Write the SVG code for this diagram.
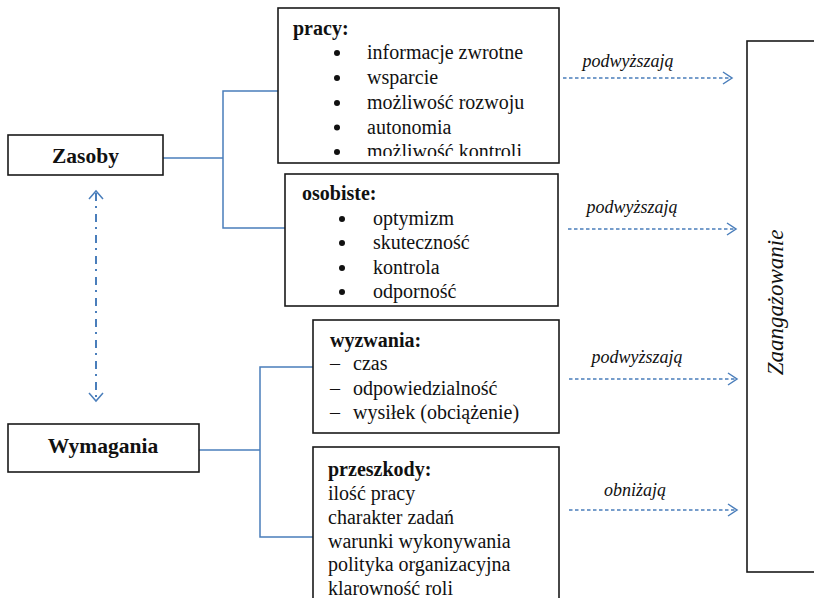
<svg xmlns="http://www.w3.org/2000/svg" width="814" height="598" viewBox="0 0 814 598">
  <style>
    .box { fill: #ffffff; stroke: #1a1a1a; stroke-width: 1.6; }
    .body { font-family: "Liberation Serif", "Times New Roman", serif; font-size: 20px; fill: #111111; }
    .head { font-family: "Liberation Serif", "Times New Roman", serif; font-size: 20px; font-weight: bold; fill: #111111; }
    .title { font-family: "Liberation Serif", "Times New Roman", serif; font-size: 21.5px; font-weight: bold; fill: #111111; text-anchor: middle; }
    .lbl { font-family: "Liberation Serif", "Times New Roman", serif; font-size: 18px; font-style: italic; fill: #111111; text-anchor: middle; }
    .dot { fill: #111111; }
    .link { fill: none; stroke: #4a7ebb; stroke-width: 1.5; }
    .effect { fill: none; stroke: #4a7ebb; stroke-width: 1.3; stroke-dasharray: 3.5 2.5; }
    .mutual { fill: none; stroke: #4a7ebb; stroke-width: 2; stroke-dasharray: 8 5 2 6; }
    .head-open { fill: none; stroke: #4a7ebb; stroke-width: 1.5; stroke-linejoin: miter; }
  </style>
  <defs>
    <clipPath id="pracyClip">
      <rect x="278" y="8" width="281" height="148"/>
    </clipPath>
  </defs>

  <rect width="814" height="598" fill="#ffffff"/>

  <!-- connectors -->
  <g id="connectors">
    <!-- resources bracket -->
    <polyline class="link" points="163,158 223,158"/>
    <polyline class="link" points="278,91 223,91 223,228 285,228"/>
    <!-- demands bracket -->
    <polyline class="link" points="199,450 260,450"/>
    <polyline class="link" points="313,367 260,367 260,537 313,537"/>

    <!-- two-way link between resources and demands -->
    <line class="mutual" x1="96" y1="193" x2="96" y2="399"/>
    <polyline class="head-open" points="89,199 96,191 103,199"/>
    <polyline class="head-open" points="89,393 96,401 103,393"/>

    <!-- effects on engagement -->
    <line class="effect" x1="563" y1="78" x2="731" y2="78"/>
    <polyline class="head-open" points="723,72 732,78 723,84"/>
    <line class="effect" x1="568" y1="229" x2="735" y2="229"/>
    <polyline class="head-open" points="727,223 736,229 727,235"/>
    <line class="effect" x1="569" y1="379" x2="736" y2="379"/>
    <polyline class="head-open" points="728,373 737,379 728,385"/>
    <line class="effect" x1="569" y1="510" x2="736" y2="510"/>
    <polyline class="head-open" points="728,504 737,510 728,516"/>

    <text class="lbl" x="628" y="67">podwyższają</text>
    <text class="lbl" x="632" y="213">podwyższają</text>
    <text class="lbl" x="637" y="363">podwyższają</text>
    <text class="lbl" x="635" y="496">obniżają</text>
  </g>

  <!-- left nodes -->
  <g id="zasoby">
    <rect class="box" x="8" y="135" width="155" height="40"/>
    <text class="title" x="85.5" y="163">Zasoby</text>
  </g>
  <g id="wymagania">
    <rect class="box" x="8" y="424" width="191" height="48"/>
    <text class="title" x="103" y="453">Wymagania</text>
  </g>

  <!-- resources -->
  <g id="pracy">
    <rect class="box" x="278" y="8" width="281" height="155"/>
    <g clip-path="url(#pracyClip)">
      <text class="head" x="293" y="35">pracy:</text>
      <circle class="dot" cx="337" cy="53" r="3"/>
      <circle class="dot" cx="337" cy="78" r="3"/>
      <circle class="dot" cx="337" cy="103" r="3"/>
      <circle class="dot" cx="337" cy="127.5" r="3"/>
      <circle class="dot" cx="337" cy="152" r="3"/>
      <g class="body">
        <text x="367" y="59">informacje zwrotne</text>
        <text x="367" y="84">wsparcie</text>
        <text x="367" y="109">możliwość rozwoju</text>
        <text x="367" y="133.5">autonomia</text>
        <text x="367" y="158">możliwość kontroli</text>
      </g>
    </g>
  </g>

  <g id="osobiste">
    <rect class="box" x="285" y="174" width="273" height="132"/>
    <text class="head" x="302" y="200">osobiste:</text>
    <circle class="dot" cx="342" cy="219" r="3"/>
    <circle class="dot" cx="342" cy="243" r="3"/>
    <circle class="dot" cx="342" cy="268" r="3"/>
    <circle class="dot" cx="342" cy="292" r="3"/>
    <g class="body">
      <text x="373" y="225">optymizm</text>
      <text x="373" y="249">skuteczność</text>
      <text x="373" y="274">kontrola</text>
      <text x="373" y="298">odporność</text>
    </g>
  </g>

  <!-- demands -->
  <g id="wyzwania">
    <rect class="box" x="313" y="320" width="246" height="113"/>
    <text class="head" x="330" y="347">wyzwania:</text>
    <g class="body">
      <text x="330" y="370">–</text>
      <text x="353" y="370">czas</text>
      <text x="330" y="395">–</text>
      <text x="353" y="395">odpowiedzialność</text>
      <text x="330" y="419">–</text>
      <text x="353" y="419">wysiłek (obciążenie)</text>
    </g>
  </g>

  <g id="przeszkody">
    <rect class="box" x="313" y="447" width="246" height="170"/>
    <text class="head" x="328" y="476">przeszkody:</text>
    <g class="body">
      <text x="328" y="500">ilość pracy</text>
      <text x="328" y="524">charakter zadań</text>
      <text x="328" y="547.5">warunki wykonywania</text>
      <text x="328" y="571">polityka organizacyjna</text>
      <text x="328" y="594.5">klarowność roli</text>
    </g>
  </g>

  <!-- outcome -->
  <g id="zaangazowanie">
    <rect class="box" x="747" y="41" width="90" height="531"/>
    <text transform="translate(783,302.5) rotate(-90)" text-anchor="middle" font-family="'Liberation Serif', 'Times New Roman', serif" font-size="23px" font-style="italic" fill="#111111">Zaangażowanie</text>
  </g>
</svg>
